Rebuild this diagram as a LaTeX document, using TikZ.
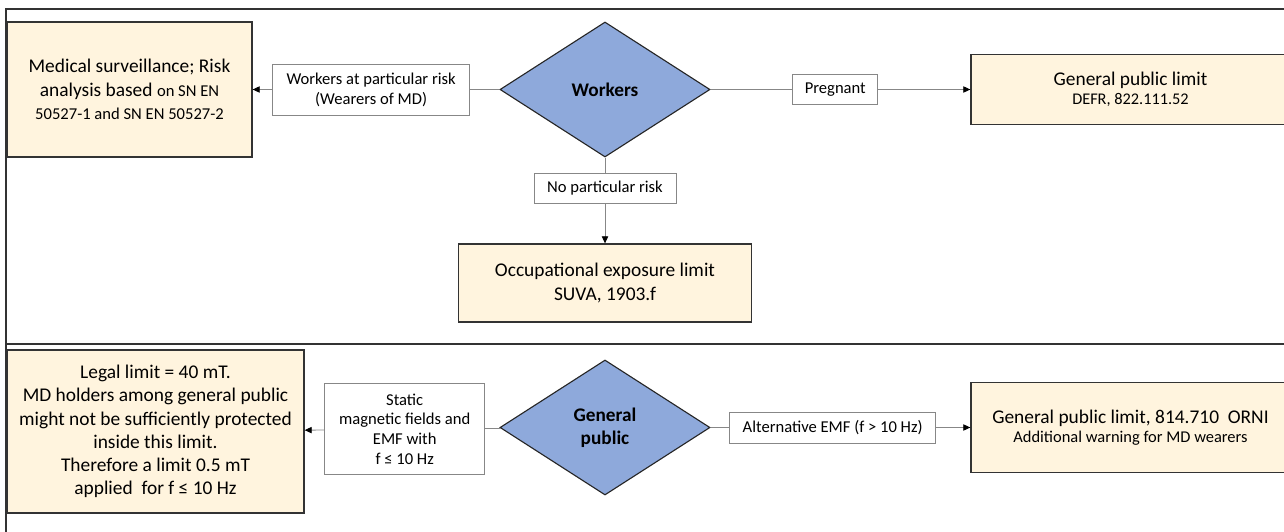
\documentclass[tikz,border=0pt]{standalone}
\usepackage{fontspec}
\setmainfont{Carlito}
\usetikzlibrary{shapes.geometric,arrows.meta}
\definecolor{limitfill}{RGB}{255,244,222}
\definecolor{decisionfill}{RGB}{142,169,219}
\definecolor{linegray}{RGB}{135,135,135}
\tikzset{
  limit/.style    = {draw=black!80, line width=0.9pt, rectangle, fill=limitfill, align=center, inner sep=2pt, font=\fontsize{13.8}{16.5}\selectfont},
  decision/.style = {draw=black!85, line width=0.8pt, diamond, fill=decisionfill, inner sep=0pt, minimum width=5.25cm, minimum height=3.375cm, align=center, font=\fontsize{13.7}{16.5}\selectfont\bfseries},
  cond/.style     = {draw=linegray, line width=0.6pt, rectangle, fill=white, text=black, align=center, inner sep=1pt, font=\fontsize{11.8}{14.2}\selectfont},
  frame/.style    = {draw=black!80, line width=1.3pt}
}

\begin{document}
\begin{tikzpicture}[x=0.025cm, y=-0.025cm, >={Triangle[black, length=5pt, width=4.5pt]}]
\useasboundingbox (0,0) rectangle (1284,532);
\clip (0,0) rectangle (1284,532);

% Frames
\draw[frame] (6,540) -- (6,9) -- (1300,9);
\draw[frame] (6,344) -- (1300,344);

% Workers part
\draw node [decision, name=workers] at (605,89.5) {Workers};
\draw node [limit, name=medical, minimum width=6.125cm, minimum height=3.375cm] at (129.5,89.5)
  {Medical surveillance; Risk\\ analysis based {\fontsize{11.8}{16.5}\selectfont on SN EN}\\ {\fontsize{11.8}{16.5}\selectfont 50527-1 and SN EN 50527-2}};
\draw node [limit, name=pregnantlimit, minimum width=7.975cm, minimum height=1.75cm] at (1130.5,89.5)
  {General public limit\\[-3pt] {\fontsize{11.6}{14}\selectfont DEFR, 822.111.52}};
\draw node [limit, name=occupational, minimum width=7.325cm, minimum height=1.95cm] at (605,283)
  {Occupational exposure limit\\ SUVA, 1903.f};

% General public part
\draw node [decision, name=public] at (605,427.5) {General\\ public};
\draw node [limit, name=legal, minimum width=7.425cm, minimum height=4.075cm] at (155.5,431.5)
  {Legal limit = 40 mT.\\ MD holders among general public\\ might not be sufficiently protected\\ inside this limit.\\ Therefore a limit 0.5 mT\\ applied\ \ for f ≤ 10 Hz};
\draw node [limit, name=publiclimit, minimum width=7.975cm, minimum height=2.25cm] at (1130.5,427.5)
  {General public limit, 814.710\ \ ORNI\\[-3pt] {\fontsize{11.7}{14}\selectfont Additional warning for MD wearers}};

% Connections
\draw[->, linegray, line width=0.6pt](workers) -- node [cond, pos=0.52, minimum width=4.925cm, minimum height=1.275cm] (atrisk) {Workers at particular risk\\ (Wearers of MD)}(medical);
\draw[->, linegray, line width=0.6pt](workers) -- node [cond, pos=0.48, minimum width=2.125cm, minimum height=0.75cm] (pregnant) {Pregnant}(pregnantlimit);
\draw[->, linegray, line width=0.6pt](workers) -- node [cond, pos=0.36, minimum width=3.55cm, minimum height=0.75cm] (norisk) {No particular risk}(occupational);
\draw[->, linegray, line width=0.6pt](public) -- node [cond, pos=0.49, minimum width=4cm, minimum height=2.275cm] (static) {Static\\ magnetic fields and\\ EMF with\\ f ≤ 10 Hz}(legal);
\draw[->, linegray, line width=0.6pt](public) -- node [cond, pos=0.47, minimum width=5.15cm, minimum height=0.775cm] (alternative) {Alternative EMF (f > 10 Hz)}(publiclimit);

\end{tikzpicture}
\end{document}
